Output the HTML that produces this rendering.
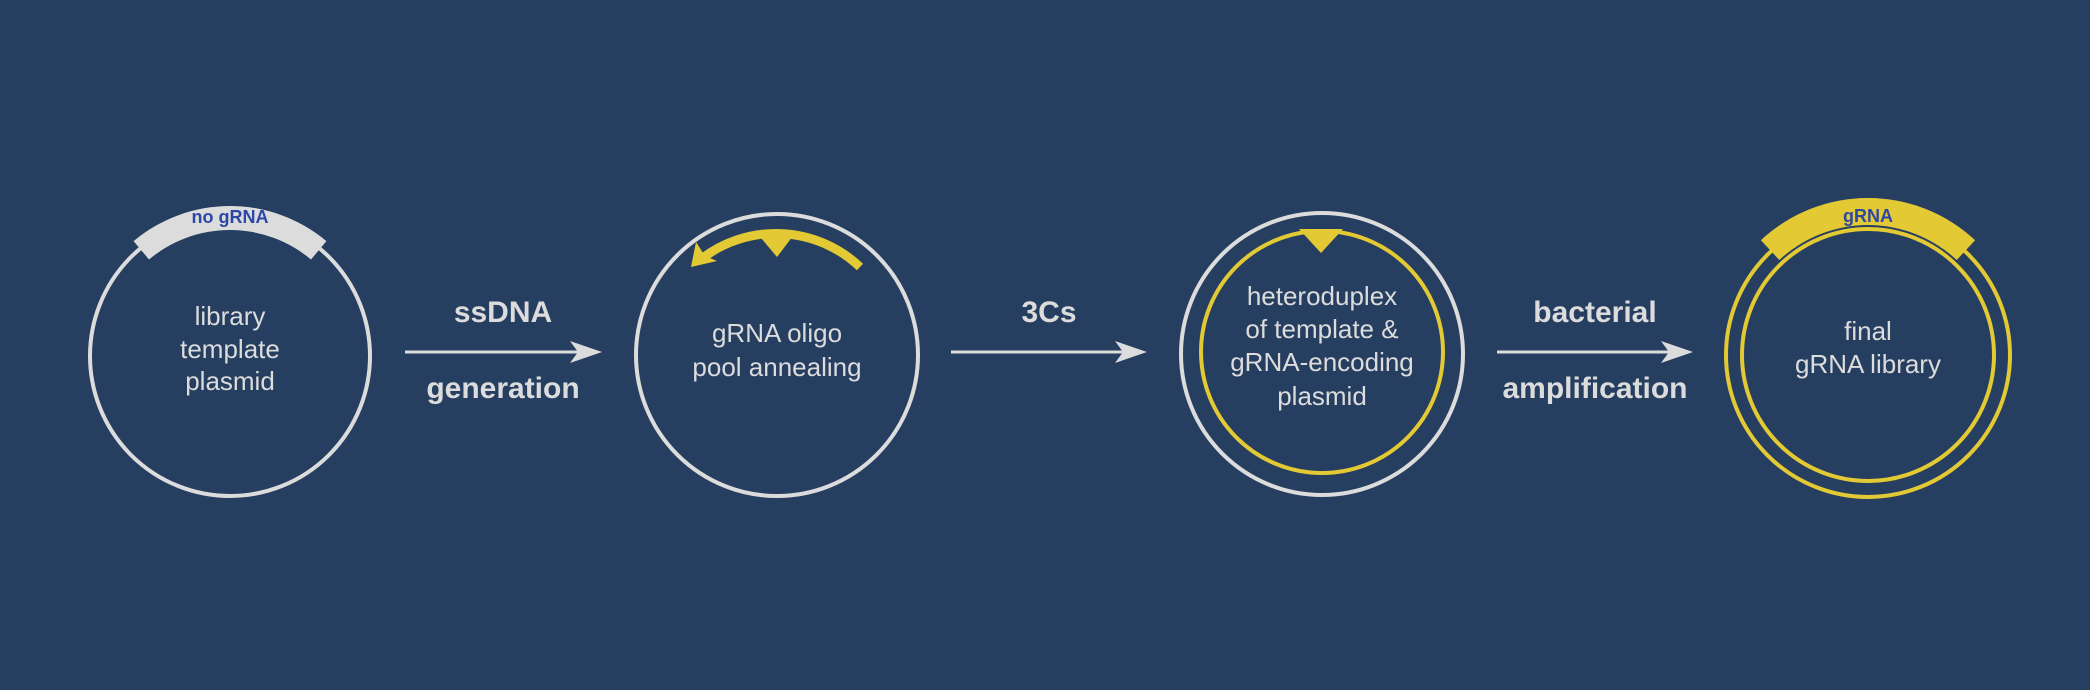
<!DOCTYPE html>
<html><head><meta charset="utf-8"><style>
html,body{margin:0;padding:0;background:#263f61;}
svg{display:block}
text{font-family:"Liberation Sans",sans-serif;fill:#dcdcdc;text-anchor:middle}
.t{font-size:26px}
.b{font-size:30px;font-weight:bold}
.lab{font-size:18px;font-weight:bold;fill:#2d47a6}
</style></head><body>
<svg width="2090" height="690" viewBox="0 0 2090 690" xmlns="http://www.w3.org/2000/svg">
<rect width="2090" height="690" fill="#263f61"/>
<!-- circle 1 -->
<circle cx="230" cy="356" r="140" fill="none" stroke="#dcdcdc" stroke-width="4"/>
<path d="M133.6,241.1 A150,150 0 0 1 326.4,241.1 L311,259.5 A126,126 0 0 0 149,259.5 Z" fill="#dcdcdc"/>
<text class="lab" x="230" y="223">no gRNA</text>
<text class="t" x="230" y="325">library</text>
<text class="t" x="230" y="358">template</text>
<text class="t" x="230" y="390">plasmid</text>
<!-- arrow 1 -->
<line x1="405" y1="352" x2="590" y2="352" stroke="#dcdcdc" stroke-width="3"/>
<path d="M602,352 L570,341 L578,352 L570,363 Z" fill="#dcdcdc"/>
<text class="b" x="503" y="322">ssDNA</text>
<text class="b" x="503" y="398">generation</text>
<!-- circle 2 -->
<circle cx="777" cy="355" r="141" fill="none" stroke="#dcdcdc" stroke-width="4"/>
<path d="M860,267 A122,122 0 0 0 700,260" fill="none" stroke="#e3c933" stroke-width="9"/>
<path d="M691,267 L696,242 L705,256 L717,261 Z" fill="#e3c933"/>
<path d="M756,232 L796,232 L777,257 Z" fill="#e3c933"/>
<text class="t" x="777" y="342">gRNA oligo</text>
<text class="t" x="777" y="376">pool annealing</text>
<!-- arrow 2 -->
<line x1="951" y1="352" x2="1135" y2="352" stroke="#dcdcdc" stroke-width="3"/>
<path d="M1147,352 L1115,341 L1123,352 L1115,363 Z" fill="#dcdcdc"/>
<text class="b" x="1049" y="322">3Cs</text>
<!-- circle 3 -->
<circle cx="1322" cy="354" r="141" fill="none" stroke="#dcdcdc" stroke-width="4"/>
<circle cx="1322" cy="352" r="121" fill="none" stroke="#e3c933" stroke-width="4"/>
<path d="M1299,229 L1343,229 L1321,253 Z" fill="#e3c933"/>
<text class="t" x="1322" y="305">heteroduplex</text>
<text class="t" x="1322" y="338">of template &amp;</text>
<text class="t" x="1322" y="371">gRNA-encoding</text>
<text class="t" x="1322" y="405">plasmid</text>
<!-- arrow 3 -->
<line x1="1497" y1="352" x2="1681" y2="352" stroke="#dcdcdc" stroke-width="3"/>
<path d="M1693,352 L1661,341 L1669,352 L1661,363 Z" fill="#dcdcdc"/>
<text class="b" x="1595" y="322">bacterial</text>
<text class="b" x="1595" y="398">amplification</text>
<!-- circle 4 -->
<circle cx="1868" cy="355" r="142" fill="none" stroke="#e3c933" stroke-width="4"/>
<circle cx="1868" cy="355" r="126" fill="none" stroke="#e3c933" stroke-width="4"/>
<path d="M1760.9,240.2 A157,157 0 0 1 1975.1,240.2 L1956.7,260 A130,130 0 0 0 1779.3,260 Z" fill="#e3c933"/>
<text class="lab" x="1868" y="222">gRNA</text>
<text class="t" x="1868" y="340">final</text>
<text class="t" x="1868" y="373">gRNA library</text>
</svg>
</body></html>
